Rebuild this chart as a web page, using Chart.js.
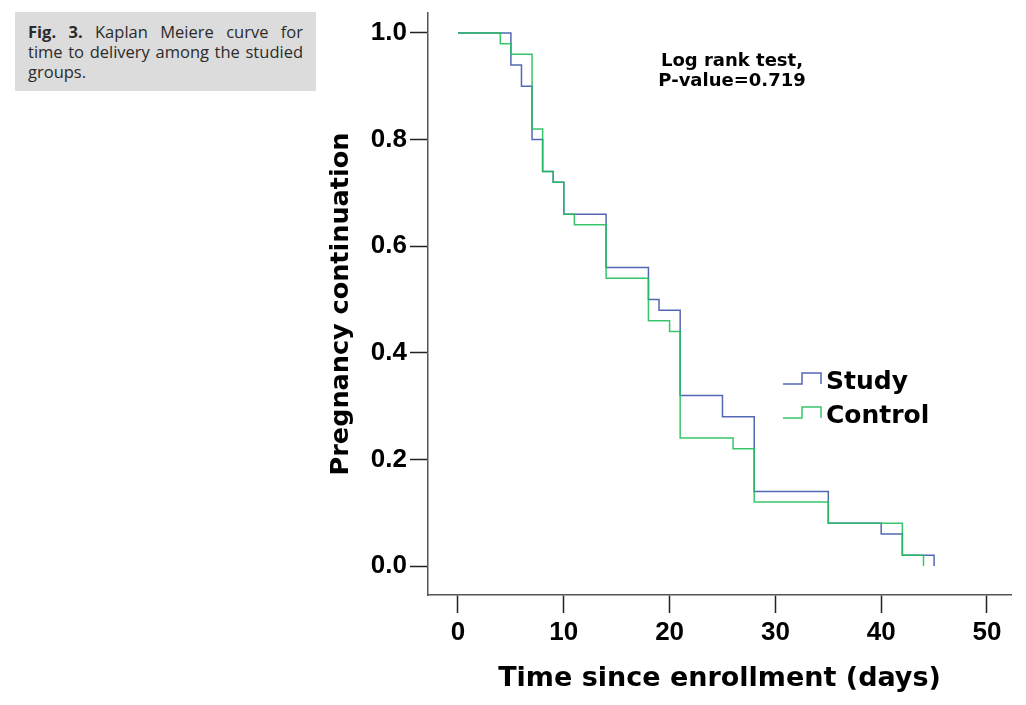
<!DOCTYPE html>
<html lang="en">
<head>
<meta charset="UTF-8">
<title>Kaplan Meiere curve</title>
<script src="https://cdn.jsdelivr.net/npm/chart.js"></script>
<style>
  body { margin: 0; background: #fff; }
  #wrap { position: relative; width: 1026px; height: 705px; }
  #chart { position: absolute; left: 0; top: 0; }
  .caption {
    position: absolute; left: 15px; top: 12px; width: 275px; height: 69px;
    padding: 10px 13px 0 13px; background: #dcdcdc; color: #2b2b2b;
    font-family: "Open Sans", sans-serif; font-size: 16.5px; line-height: 20px;
  }
  .caption div { text-align: justify; text-align-last: justify; white-space: nowrap; }
  .caption div.last { text-align-last: left; }
</style>
</head>
<body>
<div id="wrap">
  <canvas id="chart" width="1026" height="705"></canvas>
  <div class="caption">
    <div><b>Fig. 3.</b> Kaplan Meiere curve for</div>
    <div>time to delivery among the studied</div>
    <div class="last">groups.</div>
  </div>
</div>
<script>
// survival steps
const studyDays = [0, 5, 6, 7, 8, 9, 10, 14, 18, 19, 21, 25, 28, 35, 40, 42, 45];
const studySurv = [1, 0.94, 0.90, 0.80, 0.74, 0.72, 0.66, 0.56, 0.50, 0.48, 0.32, 0.28, 0.14, 0.08, 0.06, 0.02, 0];
const controlDays = [0, 4, 5, 7, 8, 9, 10, 11, 14, 18, 20, 21, 26, 28, 35, 42, 44];
const controlSurv = [1, 0.98, 0.96, 0.82, 0.74, 0.72, 0.66, 0.64, 0.54, 0.46, 0.44, 0.24, 0.22, 0.12, 0.08, 0.02, 0];
const xTicks = [0, 10, 20, 30, 40, 50];
const yTicks = [0, 0.2, 0.4, 0.6, 0.8, 1.0];
const seriesNames = ['Study', 'Control'];
const seriesColors = ['rgba(64, 88, 172, 0.9)', 'rgba(34, 192, 92, 0.9)'];

const toPoints = (xs, ys) => xs.map((x, i) => ({ x: x, y: ys[i] }));

const tickFont = { family: 'Liberation Sans', weight: 'bold', size: 26, lineHeight: 1 };
const titleFont = { family: 'DejaVu Sans', weight: 'bold', size: 27 };

// legend with step symbols + log rank note
const extras = {
  id: 'extras',
  afterDraw(chart) {
    const ctx = chart.ctx;
    ctx.save();
    ctx.fillStyle = '#000';
    ctx.font = 'bold 18px "DejaVu Sans"';
    ctx.textAlign = 'center';
    ctx.fillText('Log rank test,', 732, 66);
    ctx.fillText('P-value=0.719', 732, 86);

    ctx.font = 'bold 25px "DejaVu Sans"';
    ctx.textAlign = 'left';
    seriesNames.forEach((name, i) => {
      const y = 384 + i * 34;
      ctx.strokeStyle = seriesColors[i];
      ctx.lineWidth = 1.5;
      ctx.beginPath();
      ctx.moveTo(783, y);
      ctx.lineTo(802, y);
      ctx.lineTo(802, y - 11);
      ctx.lineTo(821, y - 11);
      ctx.lineTo(821, y);
      ctx.stroke();
      ctx.fillText(name, 826, y + 5);
    });
    ctx.restore();
  }
};

new Chart(document.getElementById('chart'), {
  type: 'line',
  data: {
    datasets: [
      { label: seriesNames[0], data: toPoints(studyDays, studySurv), borderColor: seriesColors[0], order: 1 },
      { label: seriesNames[1], data: toPoints(controlDays, controlSurv), borderColor: seriesColors[1], order: 0 }
    ]
  },
  options: {
    responsive: false,
    animation: false,
    layout: { padding: { left: 322, right: 15, top: 13, bottom: 6 } },
    elements: {
      point: { radius: 0 },
      line: { stepped: 'before', borderWidth: 1.5, fill: false }
    },
    plugins: { legend: { display: false }, tooltip: { enabled: false } },
    scales: {
      x: {
        type: 'linear', min: -2.835, max: 52.27,
        afterBuildTicks: s => { s.ticks = xTicks.map(v => ({ value: v })); },
        afterFit: s => { s.height = 104; s.paddingLeft = 0; s.paddingRight = 0; },
        grid: { drawOnChartArea: false, drawTicks: true, tickLength: 18, tickColor: '#222', tickWidth: 1.5 },
        border: { display: true, color: '#555', width: 1.5 },
        ticks: { font: tickFont, color: '#000', padding: 7, maxRotation: 0, autoSkip: false },
        title: { display: true, text: 'Time since enrollment (days)', font: titleFont, color: '#000' }
      },
      y: {
        min: -0.0544, max: 1.0375,
        afterBuildTicks: s => { s.ticks = yTicks.map(v => ({ value: v })); },
        afterFit: s => { s.width = 106; s.paddingTop = 0; s.paddingBottom = 0; },
        grid: { drawOnChartArea: false, drawTicks: true, tickLength: 18, tickColor: '#222', tickWidth: 1.5 },
        border: { display: true, color: '#555', width: 1.5 },
        ticks: { font: tickFont, color: '#000', padding: 3, callback: v => v.toFixed(1) },
        title: { display: true, text: 'Pregnancy continuation', font: { family: 'DejaVu Sans', weight: 'bold', size: 25.5 }, color: '#000' }
      }
    }
  },
  plugins: [extras]
});
</script>
</body>
</html>
